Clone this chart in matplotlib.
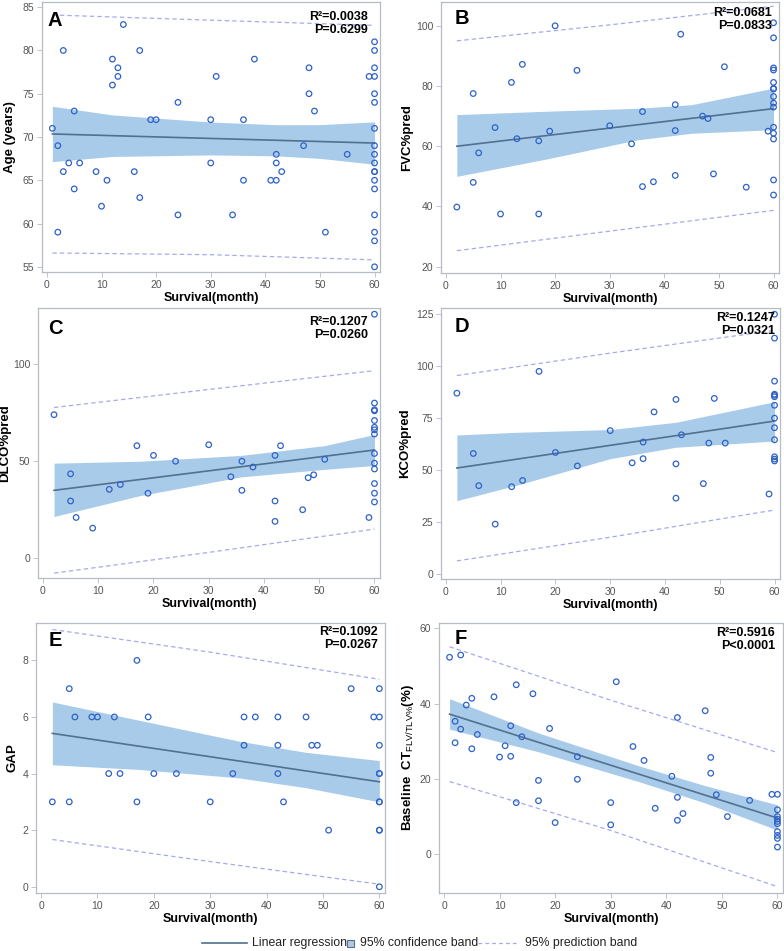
import matplotlib.pyplot as plt
from matplotlib.lines import Line2D
from matplotlib.patches import Rectangle

plt.rcParams['font.family'] = ['Liberation Sans', 'DejaVu Sans']
plt.rcParams['mathtext.fontset'] = 'custom'
plt.rcParams['mathtext.rm'] = 'Liberation Sans'
plt.rcParams['mathtext.bf'] = 'Liberation Sans:bold'

W, H = 784, 951

# ---------------- data ----------------
# A: age
a_x = [1, 3, 2, 4, 3, 5, 5, 6, 2, 9, 10, 11, 12, 12, 13, 13, 14, 16, 17, 17, 19, 20, 24, 24,
       30, 30, 31, 34, 36, 36, 38, 41, 42, 42, 42, 43, 47, 48, 48, 49, 51, 55, 59] + [60] * 18
a_y = [71, 80, 69, 67, 66, 73, 64, 67, 59, 66, 62, 65, 79, 76, 78, 77, 83, 66, 80, 63, 72, 72, 74, 61,
       72, 67, 77, 61, 72, 65, 79, 65, 68, 67, 65, 66, 69, 78, 75, 73, 59, 68, 77,
       81, 80, 78, 77, 75, 74, 71, 69, 68, 67, 66, 66, 65, 64, 61, 59, 58, 55]
a_fit = [70.35, 69.3]
a_fit_x = [1, 60]
a_ci_x = [1, 12, 30, 42, 50, 60]
a_ci_hi = [73.55, 72.55, 71.73, 71.42, 71.43, 71.75]
a_ci_lo = [67.15, 67.75, 67.93, 67.82, 67.53, 66.85]
a_pi_x = [1, 30, 60]
a_pi_hi = [84.1, 83.5, 82.9]
a_pi_lo = [56.6, 56.4, 55.8]

# B: FVC%pred
b_x = [2, 5, 5, 6, 9, 10, 12, 13, 14, 17, 17, 19, 20, 24, 30, 34, 36, 36, 38, 42, 42, 42, 43,
       47, 48, 49, 51, 55, 59] + [60] * 15
b_y = [39.8, 77.5, 48, 57.8, 66.2, 37.5, 81.2, 62.5, 87.2, 61.8, 37.5, 65, 100, 85.2, 66.8, 60.8,
       71.5, 46.6, 48.2, 73.8, 65.2, 50.3, 97.2, 70, 69.2, 50.8, 86.4, 46.4, 65,
       101, 96, 86, 85.3, 81.2, 79.2, 79, 76.5, 74.3, 73, 66.3, 64.3, 62.4, 48.8, 43.8]
b_fit = [60.0, 72.5]
b_fit_x = [2, 60]
b_ci_x = [2, 18, 35, 45, 60]
b_ci_hi = [70.5, 71.6, 72.6, 73.8, 79.3]
b_ci_lo = [50.0, 55.6, 62.1, 64.3, 65.5]
b_pi_x = [2, 30, 60]
b_pi_hi = [95.0, 100.3, 106.5]
b_pi_lo = [25.3, 31.8, 38.7]

# C: DLCO%pred
c_x = [2, 5, 5, 6, 9, 12, 14, 17, 19, 20, 24, 30, 34, 36, 36, 38, 42, 42, 42, 43, 47, 48, 49,
       51, 59] + [60] * 14
c_y = [74, 43.5, 29.5, 21, 15.5, 35.5, 38, 58, 33.5, 53, 50, 58.5, 42, 50, 35, 47, 53, 29.5, 19,
       58, 25, 41.5, 43, 51, 21,
       125.8, 80, 76.5, 76, 71, 67.5, 66.2, 64, 54, 49, 46, 38.5, 33.5, 29]
c_fit = [35.0, 55.8]
c_fit_x = [2, 60]
c_ci_x = [2, 17.6, 35.8, 50.9, 60]
c_ci_hi = [49.0, 50.0, 53.0, 58.0, 63.8]
c_ci_lo = [21.5, 32.3, 41.9, 45.8, 47.8]
c_pi_x = [2, 30, 60]
c_pi_hi = [77.7, 87.0, 96.7]
c_pi_lo = [-7.7, 3.0, 15.0]

# D: KCO%pred
d_x = [2, 5, 6, 9, 12, 14, 17, 20, 24, 30, 34, 36, 36, 38, 42, 42, 42, 43, 47, 48, 49, 51, 59] + [60] * 13
d_y = [87, 58, 42.5, 24, 42, 45, 97.5, 58.5, 52, 69, 53.5, 63.5, 55.5, 78, 84, 53, 36.5, 67, 43.5,
       63, 84.5, 63, 38.5,
       125, 113.5, 92.8, 86.5, 86, 85.3, 81.2, 75, 70.4, 64.6, 56.4, 55.3, 54.4]
d_fit = [51.0, 73.6]
d_fit_x = [2, 60]
d_ci_x = [2, 13, 30, 42, 60]
d_ci_hi = [66.9, 68.2, 69.5, 73.0, 82.9]
d_ci_lo = [35.3, 42.8, 55.5, 61.0, 64.0]
d_pi_x = [2, 30, 60]
d_pi_hi = [95.5, 106.3, 117.2]
d_pi_lo = [6.3, 17.7, 30.8]

# E: GAP
e_x = [2, 5, 5, 6, 9, 10, 12, 13, 14, 17, 17, 19, 20, 24, 30, 34, 36, 36, 38, 42, 42, 42, 43,
       47, 48, 49, 51, 55, 59] + [60] * 10
e_y = [3, 7, 3, 6, 6, 6, 4, 6, 4, 8, 3, 6, 4, 4, 3, 4, 6, 5, 6, 6, 5, 4, 3, 6, 5, 5, 2, 7, 6,
       7, 6, 5, 4, 4, 3, 3, 2, 2, 0]
e_fit = [5.42, 3.71]
e_fit_x = [2, 60]
e_ci_x = [2, 17, 35, 47, 60]
e_ci_hi = [6.53, 5.9, 5.15, 4.75, 4.46]
e_ci_lo = [4.31, 4.15, 3.85, 3.5, 3.0]
e_pi_x = [2, 30, 60]
e_pi_hi = [9.09, 8.29, 7.33]
e_pi_lo = [1.67, 0.89, 0.09]

# F: baseline CT FLV/TLV%
f_x = [1, 2, 2, 3, 3, 4, 5, 5, 6, 9, 10, 11, 12, 12, 13, 13, 14, 16, 17, 17, 19, 20, 24, 24,
       30, 30, 31, 34, 36, 38, 41, 42, 42, 42, 43, 47, 48, 48, 49, 51, 55, 59] + [60] * 10
f_y = [52.3, 35.3, 29.6, 52.9, 33.2, 39.6, 41.4, 28, 31.8, 41.8, 25.8, 28.8, 34.1, 26, 45, 13.7,
       31.2, 42.6, 19.6, 14.2, 33.4, 8.4, 25.9, 19.9, 13.7, 7.8, 45.8, 28.6, 24.9, 12.2, 20.7,
       36.3, 15.1, 9, 10.8, 38.1, 25.7, 21.5, 15.8, 10, 14.3, 15.9,
       15.9, 11.8, 10, 9.3, 8.7, 8.1, 6, 5, 4.2, 1.9]
f_fit = [37.2, 9.6]
f_fit_x = [1, 60]
f_ci_x = [1, 17, 35, 47, 60]
f_ci_hi = [41.3, 32.2, 23.5, 18.2, 13.1]
f_ci_lo = [33.2, 27.2, 19.3, 13.6, 6.4]
f_pi_x = [1, 30, 60]
f_pi_hi = [55.1, 40.9, 27.0]
f_pi_lo = [19.3, 6.3, -8.6]

letters = ['A', 'B', 'C', 'D', 'E', 'F']
ylabels = ['Age (years)', 'FVC%pred', 'DLCO%pred', 'KCO%pred', 'GAP',
           r'Baseline  CT$_{\mathrm{FLV/TLV\%}}$(%)']
r2_text = ['R\u00b2=0.0038', 'R\u00b2=0.0681', 'R\u00b2=0.1207', 'R\u00b2=0.1247', 'R\u00b2=0.1092', 'R\u00b2=0.5916']
p_text = ['P=0.6299', 'P=0.0833', 'P=0.0260', 'P=0.0321', 'P=0.0267', 'P<0.0001']
yticks = [[55, 60, 65, 70, 75, 80, 85], [20, 40, 60, 80, 100], [0, 50, 100],
          [0, 25, 50, 75, 100, 125], [0, 2, 4, 6, 8], [0, 20, 40, 60]]
ylims = [(54.4, 85.6), (17.9, 107.9), (-10.2, 129), (-2.4, 128), (-0.22, 9.32), (-10.3, 61.4)]

panels = [
    (a_x, a_y, a_fit_x, a_fit, a_ci_x, a_ci_hi, a_ci_lo, a_pi_x, a_pi_hi, a_pi_lo),
    (b_x, b_y, b_fit_x, b_fit, b_ci_x, b_ci_hi, b_ci_lo, b_pi_x, b_pi_hi, b_pi_lo),
    (c_x, c_y, c_fit_x, c_fit, c_ci_x, c_ci_hi, c_ci_lo, c_pi_x, c_pi_hi, c_pi_lo),
    (d_x, d_y, d_fit_x, d_fit, d_ci_x, d_ci_hi, d_ci_lo, d_pi_x, d_pi_hi, d_pi_lo),
    (e_x, e_y, e_fit_x, e_fit, e_ci_x, e_ci_hi, e_ci_lo, e_pi_x, e_pi_hi, e_pi_lo),
    (f_x, f_y, f_fit_x, f_fit, f_ci_x, f_ci_hi, f_ci_lo, f_pi_x, f_pi_hi, f_pi_lo),
]

# ---------------- layout (pixels) ----------------
# axes box l, t, r, b
boxes = [(42, 2, 380, 272), (441, 2, 779, 273), (38, 308, 380, 578),
         (441, 308, 780, 579), (36, 623, 385, 893), (439, 623, 783, 893)]
letter_off = [(6, 24.5), (14, 21.5), (10, 25.5), (14, 24.5), (13, 22.5), (16, 21.5)]
stats_off = [(12, 9), (7, 5), (12, 8), (5, 4), (7, 3), (8, 4)]
ylab_center = [10, 407, 5, 405, 12, 410]

PT_COL = '#2E62C8'
BAND_COL = '#A9CBEA'
LINE_COL = '#52708F'
PRED_COL = '#A3ABEE'
FRAME_COL = '#B5BCC3'
TICK_COL = '#555555'

fig = plt.figure(figsize=(W / 100, H / 100), dpi=100)

for i, (xs, ys, fx, fy, cx, chi, clo, px, phi, plo) in enumerate(panels):
    l, t, r, b = boxes[i]
    ax = fig.add_axes([l / W, 1 - b / H, (r - l) / W, (b - t) / H])
    wpx, hpx = r - l, b - t

    ax.fill_between(cx, clo, chi, color=BAND_COL, lw=0, zorder=1)
    ax.plot(fx, fy, color=LINE_COL, lw=1.2, zorder=2)
    ax.plot(px, phi, color=PRED_COL, lw=0.9, ls=(0, (3.5, 2.5)), zorder=2)
    ax.plot(px, plo, color=PRED_COL, lw=0.9, ls=(0, (3.5, 2.5)), zorder=2)
    ax.scatter(xs, ys, s=16, facecolors='none', edgecolors=PT_COL, linewidths=0.9, zorder=3)

    ax.set_xlim(-0.9, 61)
    ax.set_ylim(*ylims[i])
    ax.set_xticks([0, 10, 20, 30, 40, 50, 60])
    ax.set_yticks(yticks[i])
    for s in ax.spines.values():
        s.set_color(FRAME_COL)
        s.set_linewidth(0.9)
    ax.tick_params(direction='out', length=3.5, width=0.6, color=FRAME_COL,
                   labelsize=7.5, labelcolor=TICK_COL, pad=2)

    ax.set_xlabel('Survival(month)', fontsize=9, fontweight='bold')
    ax.xaxis.set_label_coords(0.5, -20 / hpx)
    ax.set_ylabel(ylabels[i], fontsize=9.5, fontweight='bold')
    ax.yaxis.set_label_coords((ylab_center[i] + 6 - l) / wpx, 0.5)

    lx, ly = letter_off[i]
    ax.text(lx / wpx, 1 - ly / hpx, letters[i], transform=ax.transAxes,
            fontsize=14.5, fontweight='bold', ha='left', va='baseline')
    sx, sy = stats_off[i]
    ax.text(1 - sx / wpx, 1 - sy / hpx, r2_text[i] + '\n' + p_text[i], transform=ax.transAxes,
            fontsize=9, fontweight='bold', ha='right', va='top', linespacing=1.1)

# legend along the bottom
ly = 1 - 943 / H
fig.add_artist(Line2D([202 / W, 247 / W], [ly, ly], color=LINE_COL, lw=1.2))
fig.text(252 / W, ly, 'Linear regression', fontsize=8.8, va='center', ha='left', color='#222222')
fig.add_artist(Rectangle((347 / W, ly - 3.5 / H), 7 / W, 7 / H, facecolor=BAND_COL,
                         edgecolor='#5F6F80', lw=0.8))
fig.text(360 / W, ly, '95% confidence band', fontsize=8.8, va='center', ha='left', color='#222222')
fig.add_artist(Line2D([478 / W, 519 / W], [ly, ly], color=PRED_COL, lw=0.9, ls=(0, (3, 2.5))))
fig.text(525 / W, ly, '95% prediction band', fontsize=8.8, va='center', ha='left', color='#222222')

fig.savefig('out.png', dpi=100)
